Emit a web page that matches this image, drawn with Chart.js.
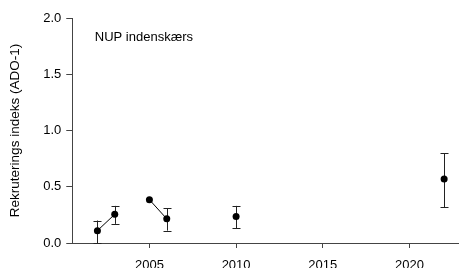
<!DOCTYPE html>
<html>
<head>
<meta charset="utf-8">
<script src="https://cdn.jsdelivr.net/npm/chart.js@4/dist/chart.umd.min.js"></script>
<style>
  html, body { margin: 0; padding: 0; background: #fff; }
  #wrap { width: 462px; height: 268px; }
</style>
</head>
<body>
<div id="wrap"><canvas id="chart"></canvas></div>
<script>
// values
var years = [2002, 2003, 2005, 2006, 2010, 2022];
var values = [0.11, 0.255, 0.385, 0.215, 0.235, 0.57];
var lower = [0.0, 0.17, null, 0.11, 0.13, 0.32];
var upper = [0.20, 0.33, null, 0.31, 0.33, 0.80];
// points sharing a group are joined by a line
var groups = [1, 1, 2, 2, 3, 4];
var xTicks = [2005, 2010, 2015, 2020];
var yTicks = [0, 0.5, 1.0, 1.5, 2.0];
var label = "NUP indenskærs";
var yTitle = "Rekruterings indeks (ADO-1)";

var font = "'Liberation Sans', Arial, sans-serif";
var axisColor = "#444";

var datasets = [];
var seen = {};
years.forEach(function(yr, i) {
  var g = groups[i];
  if (!seen[g]) {
    seen[g] = { data: [], showLine: true, borderColor: "#000", borderWidth: 1,
      pointRadius: 3.5, pointBackgroundColor: "#000", pointBorderColor: "#000", pointBorderWidth: 0 };
    datasets.push(seen[g]);
  }
  seen[g].data.push({ x: yr, y: values[i] });
});

var errorBars = {
  id: 'errorBars',
  beforeDatasetsDraw: function(chart) {
    var ctx = chart.ctx, xs = chart.scales.x, ys = chart.scales.y;
    ctx.save();
    ctx.strokeStyle = "#222";
    ctx.lineWidth = 1;
    years.forEach(function(yr, i) {
      if (lower[i] == null) return;
      var px = Math.round(xs.getPixelForValue(yr)) + 0.5;
      var lo = ys.getPixelForValue(lower[i]);
      var hi = ys.getPixelForValue(upper[i]);
      ctx.beginPath();
      ctx.moveTo(px, lo); ctx.lineTo(px, hi);
      ctx.moveTo(px - 4, Math.round(hi) + 0.5); ctx.lineTo(px + 4, Math.round(hi) + 0.5);
      ctx.moveTo(px - 4, Math.round(lo) + 0.5); ctx.lineTo(px + 4, Math.round(lo) + 0.5);
      ctx.stroke();
    });
    ctx.restore();
  },
  afterDraw: function(chart) {
    var ctx = chart.ctx, xs = chart.scales.x, ys = chart.scales.y;
    ctx.save();
    ctx.fillStyle = "#000";
    ctx.font = "13px " + font;
    ctx.textBaseline = "middle";
    ctx.fillText(label, xs.getPixelForValue(2001.85), ys.getPixelForValue(1.83));
    // x axis line runs a little past the y axis, as in the original
    ctx.strokeStyle = axisColor;
    ctx.lineWidth = 1;
    ctx.beginPath();
    ctx.moveTo(chart.chartArea.left - 4, Math.round(chart.chartArea.bottom) + 0.5);
    ctx.lineTo(chart.chartArea.left, Math.round(chart.chartArea.bottom) + 0.5);
    ctx.stroke();
    ctx.restore();
  }
};

new Chart(document.getElementById('chart'), {
  type: 'scatter',
  data: { datasets: datasets },
  options: {
    responsive: true,
    maintainAspectRatio: false,
    animation: false,
    layout: { padding: { top: 18, right: 0, bottom: 0, left: 7 } },
    plugins: { legend: { display: false }, tooltip: { enabled: false } },
    scales: {
      x: {
        type: 'linear', min: 2000.55, max: 2022.8,
        afterBuildTicks: function(axis) { axis.ticks = xTicks.map(function(v) { return { value: v }; }); },
        afterFit: function(axis) { axis.height = 25; },
        grid: { drawOnChartArea: false, drawTicks: true, tickLength: 5, color: axisColor },
        border: { display: true, color: axisColor, width: 1 },
        ticks: { color: "#000", font: { family: font, size: 13, lineHeight: 1 }, padding: 11,
          maxRotation: 0, callback: function(v) { return String(v); } }
      },
      y: {
        min: 0, max: 2,
        afterBuildTicks: function(axis) { axis.ticks = yTicks.map(function(v) { return { value: v }; }); },
        grid: { drawOnChartArea: false, drawTicks: true, tickLength: 6, color: axisColor },
        border: { display: true, color: axisColor, width: 1 },
        ticks: { color: "#000", font: { family: font, size: 13 }, padding: 5,
          callback: function(v) { return v.toFixed(1); } },
        title: { display: true, text: yTitle, color: "#000", font: { family: font, size: 13.5 }, padding: { top: 0, bottom: 15 } }
      }
    }
  },
  plugins: [errorBars]
});
</script>
</body>
</html>
